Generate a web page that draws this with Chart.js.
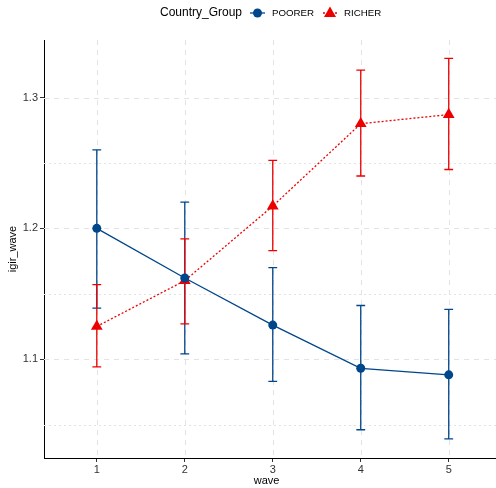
<!DOCTYPE html>
<html>
<head>
<meta charset="utf-8">
<script src="https://cdn.jsdelivr.net/npm/chart.js@4"></script>
<style>
  html, body { margin: 0; padding: 0; background: #fff; }
  #wrap { width: 496px; height: 488px; }
</style>
</head>
<body>
<div id="wrap"><canvas id="igirChart"></canvas></div>
<script>
// wave 1..5, mean igir_wave per group with lower/upper error bars
const waves = [1, 2, 3, 4, 5];
const poorerMean = [1.200, 1.162, 1.126, 1.093, 1.088];
const poorerLow = [1.139, 1.104, 1.083, 1.046, 1.039];
const poorerHigh = [1.260, 1.220, 1.170, 1.141, 1.138];
const richerMean = [1.125, 1.160, 1.217, 1.280, 1.287];
const richerLow = [1.094, 1.127, 1.183, 1.240, 1.245];
const richerHigh = [1.157, 1.192, 1.252, 1.321, 1.330];
const xTicks = [1, 2, 3, 4, 5];
const yTicks = [1.1, 1.2, 1.3];
const yMinor = [1.05, 1.15, 1.25];

const BLUE = '#00468B';
const RED = '#ED0000';
const FONT = '"Liberation Sans", Arial, sans-serif';

// dashed grid drawn behind the data (runs out to the canvas edge like the panel)
const gridPlugin = {
  id: 'ggGrid',
  beforeDatasetsDraw(chart) {
    const { ctx, chartArea: a, scales: { x, y } } = chart;
    const right = chart.width;
    ctx.save();
    ctx.strokeStyle = '#E3E3E3';
    ctx.lineWidth = 1;
    ctx.setLineDash([2, 3]);
    yMinor.forEach(v => {
      const py = Math.round(y.getPixelForValue(v)) + 0.5;
      ctx.beginPath(); ctx.moveTo(a.left, py); ctx.lineTo(right, py); ctx.stroke();
    });
    ctx.setLineDash([5, 5]);
    yTicks.forEach(v => {
      const py = Math.round(y.getPixelForValue(v)) + 0.5;
      ctx.beginPath(); ctx.moveTo(a.left, py); ctx.lineTo(right, py); ctx.stroke();
    });
    xTicks.forEach(v => {
      const px = Math.round(x.getPixelForValue(v)) + 0.5;
      ctx.beginPath(); ctx.moveTo(px, a.top); ctx.lineTo(px, a.bottom); ctx.stroke();
    });
    ctx.setLineDash([]);
    ctx.strokeStyle = '#000';
    ctx.beginPath();
    ctx.moveTo(a.right, a.bottom + 0.5); ctx.lineTo(right, a.bottom + 0.5);
    ctx.stroke();
    ctx.restore();
  }
};

// error bars, drawn per dataset before the points
const errorBarPlugin = {
  id: 'errorBars',
  beforeDatasetsDraw(chart) {
    const { ctx, scales: { x, y } } = chart;
    const cap = 0.05;
    chart.data.datasets.forEach(ds => {
      ctx.save();
      ctx.strokeStyle = ds.borderColor;
      ctx.lineWidth = 1.3;
      ds.data.forEach((pt, i) => {
        const px = x.getPixelForValue(pt.x);
        const lo = y.getPixelForValue(ds.low[i]);
        const hi = y.getPixelForValue(ds.high[i]);
        const l = x.getPixelForValue(pt.x - cap);
        const r = x.getPixelForValue(pt.x + cap);
        ctx.beginPath();
        ctx.moveTo(px, lo); ctx.lineTo(px, hi);
        ctx.moveTo(l, lo); ctx.lineTo(r, lo);
        ctx.moveTo(l, hi); ctx.lineTo(r, hi);
        ctx.stroke();
      });
      ctx.restore();
    });
  }
};

// ggplot style legend on top: title + line/marker keys
const legendPlugin = {
  id: 'ggLegend',
  afterDraw(chart) {
    const ctx = chart.ctx;
    const cy = 13;
    ctx.save();
    ctx.textBaseline = 'middle';
    ctx.textAlign = 'left';
    ctx.fillStyle = '#000';
    ctx.font = '12px ' + FONT;
    ctx.fillText('Country_Group', 160, cy);

    ctx.strokeStyle = BLUE; ctx.lineWidth = 1.3;
    ctx.beginPath(); ctx.moveTo(250, cy); ctx.lineTo(265, cy); ctx.stroke();
    ctx.fillStyle = BLUE;
    ctx.beginPath(); ctx.arc(257.5, cy, 4.5, 0, Math.PI * 2); ctx.fill();
    ctx.fillStyle = '#000';
    ctx.font = '9.7px ' + FONT;
    ctx.fillText('POORER', 272, cy);

    ctx.strokeStyle = RED;
    ctx.setLineDash([2, 2]);
    ctx.beginPath(); ctx.moveTo(323, cy); ctx.lineTo(337, cy); ctx.stroke();
    ctx.setLineDash([]);
    ctx.fillStyle = RED;
    ctx.beginPath();
    ctx.moveTo(330, cy - 6.5); ctx.lineTo(336, cy + 4); ctx.lineTo(324, cy + 4);
    ctx.closePath(); ctx.fill();
    ctx.fillStyle = '#000';
    ctx.fillText('RICHER', 344, cy);
    ctx.restore();
  }
};

const toPoints = arr => waves.map((w, i) => ({ x: w, y: arr[i] }));

new Chart(document.getElementById('igirChart'), {
  type: 'line',
  data: {
    datasets: [{
      label: 'POORER',
      data: toPoints(poorerMean),
      low: poorerLow,
      high: poorerHigh,
      borderColor: BLUE,
      backgroundColor: BLUE,
      borderWidth: 1.3,
      pointStyle: 'circle',
      pointRadius: 4.5,
      pointBorderWidth: 0,
      pointHoverRadius: 4.5,
      tension: 0
    }, {
      label: 'RICHER',
      data: toPoints(richerMean),
      low: richerLow,
      high: richerHigh,
      borderColor: RED,
      backgroundColor: RED,
      borderWidth: 1.3,
      borderDash: [2, 2],
      pointStyle: 'triangle',
      pointRadius: 6.8,
      pointBorderWidth: 0,
      pointHoverRadius: 6.8,
      tension: 0
    }]
  },
  options: {
    responsive: true,
    maintainAspectRatio: false,
    animation: false,
    layout: { padding: { top: 40, right: 0, left: 0, bottom: 0 } },
    plugins: {
      legend: { display: false },
      tooltip: { enabled: false }
    },
    scales: {
      x: {
        type: 'linear',
        min: 0.4,
        max: 5.46,
        afterBuildTicks: s => { s.ticks = xTicks.map(v => ({ value: v })); },
        afterFit: s => { s.height = 30; },
        grid: { drawOnChartArea: false, drawTicks: true, tickLength: 4, tickColor: '#333', tickWidth: 1 },
        border: { color: '#000', width: 1 },
        ticks: { color: '#333', font: { family: FONT, size: 11 }, padding: 1 },
        title: { display: true, text: 'wave', color: '#000', font: { family: FONT, size: 11 }, padding: { top: 0, bottom: 0 } }
      },
      y: {
        type: 'linear',
        min: 1.0244,
        max: 1.344,
        afterBuildTicks: s => { s.ticks = yTicks.map(v => ({ value: v })); },
        afterFit: s => { s.width = 44; },
        grid: { drawOnChartArea: false, drawTicks: true, tickLength: 4, tickColor: '#333', tickWidth: 1 },
        border: { color: '#000', width: 1 },
        ticks: { color: '#333', font: { family: FONT, size: 11 }, padding: 2, callback: v => v.toFixed(1) },
        title: { display: true, text: 'igir_wave', color: '#000', font: { family: FONT, size: 11 }, padding: { top: 6, bottom: 0 } }
      }
    }
  },
  plugins: [gridPlugin, errorBarPlugin, legendPlugin]
});
</script>
</body>
</html>
